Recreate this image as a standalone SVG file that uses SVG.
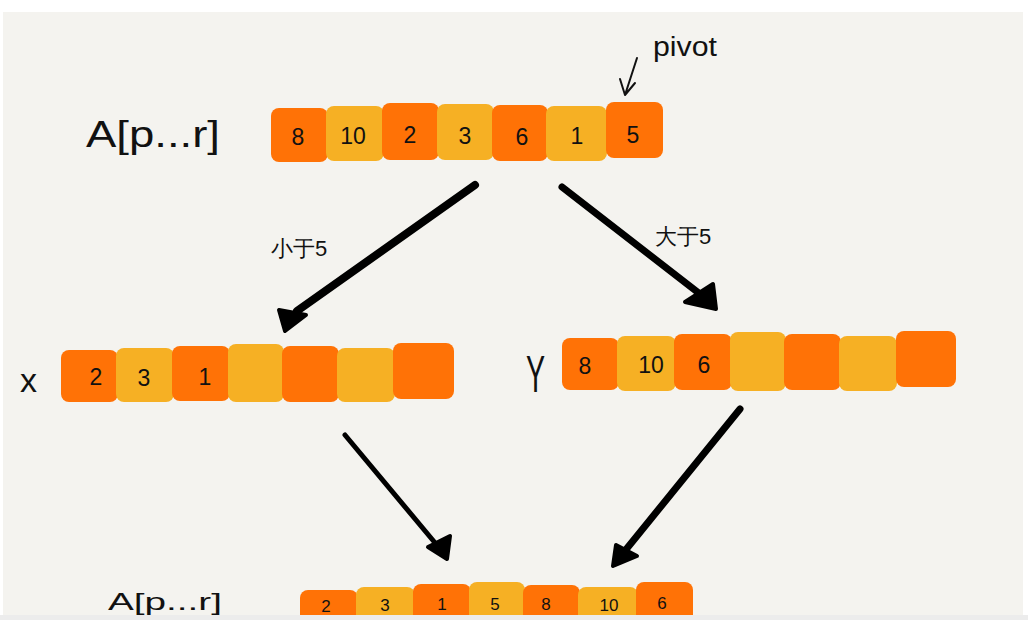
<svg xmlns="http://www.w3.org/2000/svg" width="1028" height="620" viewBox="0 0 1028 620">
<style>
.o{fill:#ff7206}
.y{fill:#f6b024}
.n{font-family:"Liberation Sans","DejaVu Sans",sans-serif;font-size:23px;fill:#111;text-anchor:middle}
.nb{font-family:"Liberation Sans","DejaVu Sans",sans-serif;font-size:17px;fill:#111;text-anchor:middle}
.lbl{font-family:"Liberation Sans","DejaVu Sans",sans-serif;fill:#111}
.ln{fill:none;stroke:#000;stroke-linecap:round}
.hd{fill:#000;stroke:#000;stroke-width:4;stroke-linejoin:round}
</style>
<rect x="0" y="0" width="1028" height="620" fill="#ffffff"/>
<rect x="3" y="12" width="1020" height="603" fill="#f4f3ef"/>

<g id="label-top">
<text class="lbl" x="86" y="147" font-size="36" textLength="134" lengthAdjust="spacingAndGlyphs">A[p...r]</text>
</g>
<g id="label-pivot">
<text class="lbl" x="653" y="56" font-size="27" textLength="64" lengthAdjust="spacingAndGlyphs">pivot</text>
<path d="M637 58 L625 95 M620 79 L625 95 L635 83" fill="none" stroke="#111" stroke-width="2" stroke-linecap="round" stroke-linejoin="round"/>
</g>

<g id="array-top">
<rect class="o" x="271" y="108" width="57" height="54" rx="8"/>
<rect class="y" x="326" y="106" width="58" height="55" rx="8"/>
<rect class="o" x="382" y="103" width="57" height="57" rx="8"/>
<rect class="y" x="437" y="104" width="57" height="56" rx="8"/>
<rect class="o" x="492" y="105" width="56" height="56" rx="8"/>
<rect class="y" x="546" y="106" width="61" height="55" rx="8"/>
<rect class="o" x="606" y="102" width="57" height="56" rx="8"/>
<text class="n" x="298" y="145">8</text>
<text class="n" x="353" y="144" font-size="20">10</text>
<text class="n" x="410" y="143">2</text>
<text class="n" x="465" y="144">3</text>
<text class="n" x="522" y="145">6</text>
<text class="n" x="577" y="144" font-size="18">1</text>
<text class="n" x="633" y="143">5</text>
</g>

<g id="label-small">
<text class="lbl" x="271" y="256" font-size="22">小于5</text>
</g>
<g id="label-big">
<text class="lbl" x="655" y="244" font-size="22">大于5</text>
</g>

<g id="label-x">
<text class="lbl" x="20" y="392" font-size="34">x</text>
</g>
<g id="array-x">
<rect class="o" x="61" y="350" width="57" height="52" rx="8"/>
<rect class="y" x="116" y="348" width="58" height="54" rx="8"/>
<rect class="o" x="172" y="346" width="58" height="55" rx="8"/>
<rect class="y" x="228" y="344" width="56" height="58" rx="8"/>
<rect class="o" x="282" y="346" width="57" height="56" rx="8"/>
<rect class="y" x="337" y="348" width="58" height="54" rx="8"/>
<rect class="o" x="393" y="343" width="61" height="56" rx="8"/>
<text class="n" x="96" y="385">2</text>
<text class="n" x="144" y="386">3</text>
<text class="n" x="205" y="385" font-size="20">1</text>
</g>

<g id="label-y">
<text class="lbl" x="0" y="0" font-size="52" transform="translate(526 392) scale(0.55 1)">Y</text>
</g>
<g id="array-y">
<rect class="o" x="562" y="338" width="57" height="52" rx="8"/>
<rect class="y" x="617" y="336" width="59" height="55" rx="8"/>
<rect class="o" x="674" y="334" width="58" height="56" rx="8"/>
<rect class="y" x="730" y="332" width="56" height="59" rx="8"/>
<rect class="o" x="784" y="334" width="57" height="56" rx="8"/>
<rect class="y" x="839" y="336" width="58" height="55" rx="8"/>
<rect class="o" x="896" y="331" width="60" height="56" rx="8"/>
<text class="n" x="585" y="374">8</text>
<text class="n" x="651" y="373" font-size="20">10</text>
<text class="n" x="704" y="373">6</text>
</g>

<g id="label-bottom">
<text class="lbl" x="108" y="610" font-size="24" textLength="114" lengthAdjust="spacingAndGlyphs">A[p...r]</text>
</g>
<g id="array-bottom">
<rect class="o" x="300" y="590" width="58" height="42" rx="8"/>
<rect class="y" x="356" y="587" width="59" height="45" rx="8"/>
<rect class="o" x="413" y="584" width="58" height="48" rx="8"/>
<rect class="y" x="469" y="582" width="56" height="50" rx="8"/>
<rect class="o" x="523" y="585" width="57" height="47" rx="8"/>
<rect class="y" x="578" y="587" width="60" height="45" rx="8"/>
<rect class="o" x="636" y="582" width="57" height="50" rx="8"/>
<text class="nb" x="326" y="612">2</text>
<text class="nb" x="385" y="611">3</text>
<text class="nb" x="442" y="610">1</text>
<text class="nb" x="495" y="610">5</text>
<text class="nb" x="546" y="610">8</text>
<text class="nb" x="609" y="611">10</text>
<text class="nb" x="662" y="609">6</text>
</g>

<g id="connectors">
<path class="ln" d="M475 185 L297 311" stroke-width="8"/>
<path class="hd" d="M279 310 L306 315 L285 331 Z"/>
<path class="ln" d="M562 187 L700 294" stroke-width="7"/>
<path class="hd" d="M685 302 L713 284 L716 309 Z"/>
<path class="ln" d="M345 435 L436 544" stroke-width="5"/>
<path class="hd" d="M428 547 L450 536 L447 559 Z"/>
<path class="ln" d="M740 409 L624 552" stroke-width="7"/>
<path class="hd" d="M613 566 L616 545 L637 556 Z"/>
</g>

<rect x="0" y="615" width="1028" height="5" fill="#ececec"/>
</svg>
